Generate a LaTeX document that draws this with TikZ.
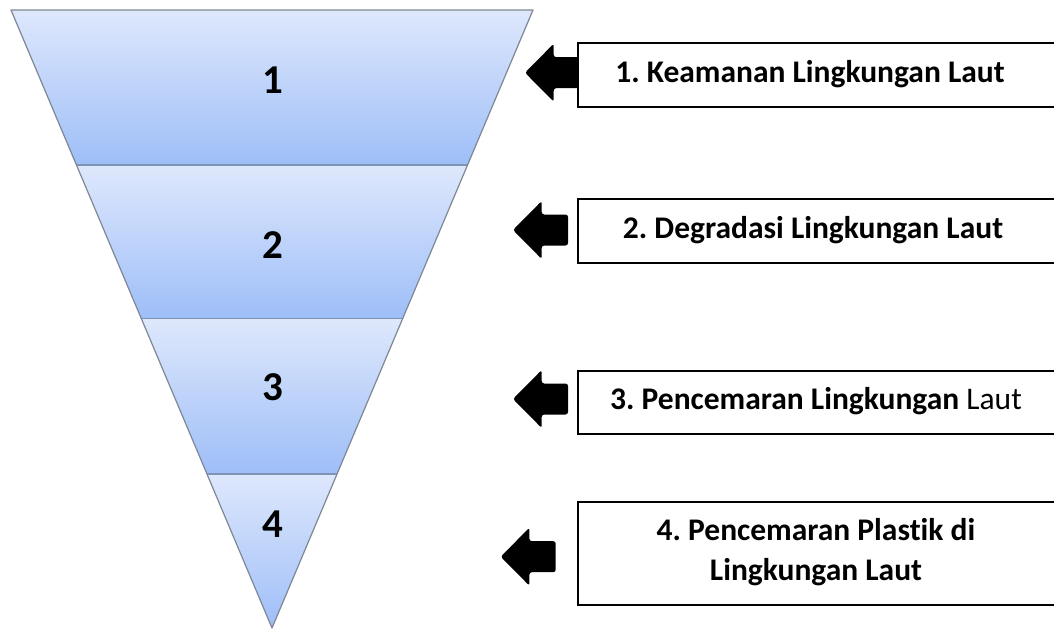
\documentclass[tikz,border=0pt]{standalone}
\usepackage{fontspec}
\setmainfont{Carlito}[Ligatures=NoCommon]
\frenchspacing
\definecolor{bandtop}{HTML}{DEE8FC}
\definecolor{bandbot}{HTML}{9EBEF8}
\definecolor{edgegray}{HTML}{7E8794}
\definecolor{divblue}{HTML}{7F93B5}
\newcommand\blkarrow[3]{%
  \coordinate (#3) at (#1,#2);
  \fill[blockarrow] (#3) -- ++(28.7,-29) -- ++(0,13.5) -- ++(26.3,0) -- ++(0,31)
     -- ++(-26.3,0) -- ++(0,13.5) -- cycle;}
\begin{document}
\begin{tikzpicture}[x=1pt,y=-1pt,
  band/.style={top color=bandtop, bottom color=bandbot, draw=none},
  edge/.style={draw=edgegray, line width=1.2pt, line join=round},
  divider/.style={draw=divblue, line width=1.4pt},
  num/.style={font=\fontsize{41}{48}\selectfont\bfseries, inner sep=0pt},
  labelbox/.style={draw=black, line width=1.8pt, fill=white, inner sep=0pt,
    anchor=north west, minimum width=490pt},
  labeltext/.style={font=\fontsize{31.5}{40}\selectfont\bfseries, align=center, inner sep=0pt},
  blockarrow/.style={fill=black, rounded corners=2.5pt}]
\useasboundingbox (0,0) rectangle (1054,629);
\clip (0,0) rectangle (1054,629);
% funnel bands
\shade[band] (11,10) -- (533,10) -- (467.5,165) -- (76.5,165) -- cycle;
\shade[band] (76.5,165) -- (467.5,165) -- (402.8,318.3) -- (141.2,318.3) -- cycle;
\shade[band] (141.2,318.3) -- (402.8,318.3) -- (337,474) -- (207,474) -- cycle;
\shade[band] (207,474) -- (337,474) -- (272,628) -- cycle;
% dividers
\draw[divider] (76.5,165) -- (467.5,165);
\draw[divider] (141.2,318.3) -- (402.8,318.3);
\draw[divider] (207,474) -- (337,474);
% outline
\draw[edge] (272,628) -- (11,10) -- (533,10) -- cycle;
% numbers
\node[num] (n1) at (273,80) {1};
\node[num] (n2) at (273,245) {2};
\node[num] (n3) at (273,387) {3};
\node[num] (n4) at (273,524) {4};
% arrows
\blkarrow{525}{72.7}{a1}
\blkarrow{513}{230}{a2}
\blkarrow{513}{399}{a3}
\blkarrow{500.7}{556.7}{a4}
% boxes
\node[labelbox, minimum height=64.3pt] (b1) at (577,41.7) {};
\node[labelbox, minimum height=63.7pt] (b2) at (577,198) {};
\node[labelbox, minimum height=63pt] (b3) at (577,370) {};
\node[labelbox, minimum height=103pt] (b4) at (577,501) {};
% texts
\node[labeltext] (t1) at (810,74) {1. Keamanan Lingkungan Laut};
\node[labeltext] (t2) at (813,230) {2. Degradasi Lingkungan Laut};
\node[labeltext] (t3) at (816,401.5) {3. Pencemaran Lingkungan \textmd{Laut}};
\node[labeltext] (t4) at (816,552.5) {4. Pencemaran Plastik di\\Lingkungan Laut};
\end{tikzpicture}
\end{document}
